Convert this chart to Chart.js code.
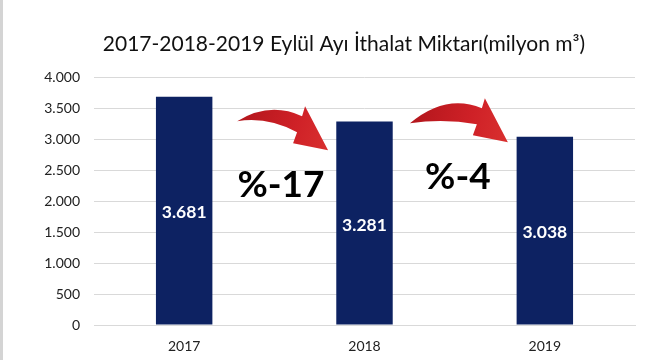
<!DOCTYPE html>
<html><head><meta charset="utf-8">
<script src="https://cdn.jsdelivr.net/npm/chart.js@4/dist/chart.umd.min.js"></script>
<style>html,body{margin:0;padding:0;background:#fff}#wrap{width:650px;height:360px;position:relative}</style>
</head><body><div id="wrap"><canvas id="c"></canvas></div>
<script>
const categories = ['2017', '2018', '2019'];
const values = [3681, 3281, 3038];
const yTickValues = [0, 500, 1000, 1500, 2000, 2500, 3000, 3500, 4000];
const changeLabels = ['%-17', '%-4'];
const titleText = '2017-2018-2019 Eylül Ayı İthalat Miktarı(milyon m³)';

const FONT = 'Lato, "Open Sans", sans-serif';
function fmt(v){ return String(v).replace(/\B(?=(\d{3})+(?!\d))/g, '.'); }

const frame = {
  id: 'frame',
  beforeDraw(chart){
    const ctx = chart.ctx;
    ctx.save();
    ctx.fillStyle = '#fff';
    ctx.fillRect(0,0,chart.width,chart.height);
    ctx.fillStyle = '#d4d4d4';
    ctx.fillRect(0,0,3,chart.height);
    ctx.restore();
  },
  afterDraw(chart){
    const ctx = chart.ctx;
    ctx.save();
    ctx.fillStyle = '#111';
    ctx.font = '21px ' + FONT;
    ctx.textAlign = 'center';
    ctx.textBaseline = 'middle';
    ctx.fillText(titleText, chart.width / 2 + 19, 44);
    ctx.restore();
  }
};

const barLabels = {
  id: 'barLabels',
  afterDatasetsDraw(chart){
    const ctx = chart.ctx;
    const meta = chart.getDatasetMeta(0);
    ctx.save();
    ctx.fillStyle = '#fff';
    ctx.font = 'bold 17.5px ' + FONT;
    ctx.textAlign = 'center';
    ctx.textBaseline = 'middle';
    meta.data.forEach((bar, i) => {
      ctx.fillText(fmt(values[i]), bar.x, (bar.y + bar.base) / 2 + 2);
    });
    ctx.restore();
  }
};

const annotations = {
  id: 'annotations',
  afterDatasetsDraw(chart, args, opts){
    const ctx = chart.ctx;
    const xs = chart.scales.x, ys = chart.scales.y;
    const P = (p) => ({x: xs.getPixelForValue(p[0]), y: ys.getPixelForValue(p[1])});
    ctx.save();
    opts.arrows.forEach(a => {
      const T = P(a.from), E = P(a.to);
      const wo = {x:E.x-23, y:E.y-44}, wi = {x:E.x-35, y:E.y-7};
      const su = {x:E.x-26, y:E.y-34}, sl = {x:E.x-31, y:E.y-18};
      const cu = {x:(T.x+su.x)/2, y:Math.min(T.y,su.y)-15};
      const cl = {x:(T.x+sl.x)/2, y:Math.min(T.y,sl.y)-5};
      const g = ctx.createLinearGradient(T.x, T.y, E.x, E.y);
      g.addColorStop(0, '#b3161c');
      g.addColorStop(0.6, '#cf2127');
      g.addColorStop(1, '#d9302f');
      ctx.fillStyle = g;
      ctx.beginPath();
      ctx.moveTo(T.x, T.y);
      ctx.quadraticCurveTo(cu.x, cu.y, su.x, su.y);
      ctx.lineTo(wo.x, wo.y);
      ctx.lineTo(E.x, E.y);
      ctx.lineTo(wi.x, wi.y);
      ctx.lineTo(sl.x, sl.y);
      ctx.quadraticCurveTo(cl.x, cl.y, T.x, T.y);
      ctx.closePath();
      ctx.fill();
    });
    ctx.fillStyle = '#000';
    ctx.font = 'bold 37px ' + FONT;
    ctx.textAlign = 'center';
    ctx.textBaseline = 'middle';
    opts.texts.forEach((t, i) => {
      const p = P(t);
      ctx.fillText(changeLabels[i], p.x, p.y);
    });
    ctx.restore();
  }
};

new Chart(document.getElementById('c'), {
  type: 'bar',
  data: {
    labels: categories,
    datasets: [{
      data: values,
      backgroundColor: '#0d2262',
      barPercentage: 0.313,
      categoryPercentage: 1.0
    }]
  },
  options: {
    responsive: true,
    maintainAspectRatio: false,
    animation: false,
    layout: { padding: { left: 30, right: 15, top: 77, bottom: 5 } },
    plugins: {
      legend: { display: false },
      tooltip: { enabled: false },
      title: { display: false },
      annotations: {
        arrows: [
          { from: [0.294, 3286], to: [0.798, 2819] },
          { from: [1.252, 3254], to: [1.795, 2948] }
        ],
        texts: [[0.537, 2255], [1.518, 2384]]
      }
    },
    scales: {
      x: {
        grid: { display: false, drawTicks: false },
        border: { display: true, color: '#d9d9d9', width: 1 },
        ticks: { color: '#222', font: { family: FONT, size: 14 }, padding: 13 },
        afterFit(s){ s.height = 30; }
      },
      y: {
        min: 0, max: 4000,
        afterBuildTicks(s){ s.ticks = yTickValues.map(v => ({value: v})); },
        grid: { color: '#d9d9d9', drawTicks: false },
        border: { display: false },
        ticks: { color: '#222', font: { family: FONT, size: 14 }, padding: 14, callback: (v) => fmt(v) },
        afterFit(s){ s.width = 64; }
      }
    }
  },
  plugins: [frame, barLabels, annotations]
});
</script>
</body></html>
